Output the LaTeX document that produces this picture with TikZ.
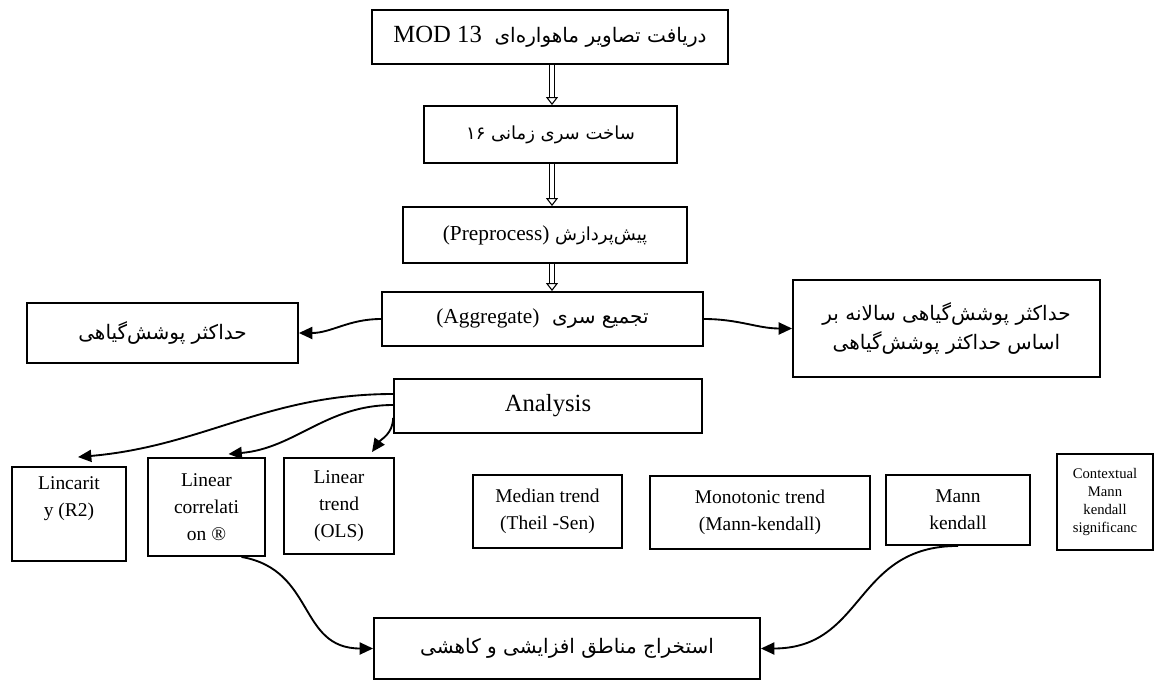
\documentclass[tikz,border=0pt]{standalone}
\usepackage{fontspec}
\setmainfont{Liberation Serif}
\newfontfamily\fa[Script=Arabic]{DejaVu Sans}
\TeXXeTstate=1
\usetikzlibrary{arrows.meta,calc}
\begin{document}
\begin{tikzpicture}[x=0.75pt,y=-0.75pt,
  box/.style={draw, line width=1.4pt, align=center, inner sep=0pt},
  dbl/.style={double, double distance=2.6pt, line width=0.7pt, -{Triangle[open, length=6pt, width=9pt, line width=0.8pt]}},
  carr/.style={line width=1.4pt, -{Triangle[length=10pt,width=9pt]}},
  fa/.style={font=\fa\fontsize{15}{21.75}\selectfont},
  fas/.style={font=\fa\fontsize{13.5}{20}\selectfont},
  lat/.style={font=\fontsize{14.6}{20}\selectfont},
  small/.style={font=\fontsize{11}{13.5}\selectfont}]
\useasboundingbox (0,0) rectangle (1161,682);
\coordinate (ax) at (552,0);
% main chain
\node[box, fa, minimum width=267pt, minimum height=40.5pt] (b1) at (550,37)
  {\beginR دریافت تصاویر ماهواره‌ای\ \ \beginL{\rmfamily\fontsize{18.5}{22}\selectfont MOD 13}\endL\endR};
\node[box, fas, minimum width=189.75pt, minimum height=42.75pt] (b2) at (550.5,134.5)
  {\beginR ساخت سری زمانی ۱۶\endR};
\node[box, fas, minimum width=213pt, minimum height=42pt] (b3) at (545,235)
  {\beginR پیش‌پردازش \beginL{\rmfamily\fontsize{16}{20}\selectfont (Preprocess)}\endL\endR};
\node[box, fa, minimum width=240.75pt, minimum height=40.5pt] (agg) at (542.5,319)
  {\beginR تجمیع سری\ \ \beginL{\rmfamily\fontsize{16}{20}\selectfont (Aggregate)}\endL\endR};
\node[box, fa, minimum width=203.25pt, minimum height=45pt] (left) at (162.5,333)
  {\beginR حداکثر پوشش‌گیاهی\endR};
\node[box, fa, minimum width=230.25pt, minimum height=72.75pt] (right) at (946.5,328.5)
  {\beginR حداکثر پوشش‌گیاهی سالانه بر\endR\\\beginR اساس حداکثر پوشش‌گیاهی\endR};
\node[box, minimum width=231pt, minimum height=40.5pt, font=\fontsize{18.5}{22}\selectfont] (an) at (548,406) {Analysis};
% method boxes
\node[box, lat, minimum width=85.5pt, minimum height=70.5pt] (lin) at (69,514) {Lincarit\\y (R2)\\\strut};
\node[box, lat, minimum width=87.75pt, minimum height=73.5pt] (corr) at (206.5,507) {Linear\\correlati\\on \textregistered};
\node[box, lat, minimum width=82.5pt, minimum height=72pt] (trend) at (339,506) {Linear\\trend\\(OLS)};
\node[box, lat, minimum width=111.75pt, minimum height=54.75pt] (med) at (547.5,511.5) {Median trend\\(Theil -Sen)};
\node[box, lat, minimum width=165pt, minimum height=54.75pt] (mono) at (760,512.5) {Monotonic trend\\(Mann-kendall)};
\node[box, lat, minimum width=108pt, minimum height=52.5pt] (mann) at (958,510) {Mann\\kendall};
\node[box, small, minimum width=72pt, minimum height=72pt] (ctx) at (1105,502) {Contextual\\Mann\\kendall\\significanc};
\node[box, fa, minimum width=289.5pt, minimum height=45.75pt] (bot) at (567,648.5)
  {\beginR استخراج مناطق افزایشی و کاهشی\endR};
% double arrows
\draw[dbl] (b1.south -| ax) -- (b2.north -| ax);
\draw[dbl] (b2.south -| ax) -- (b3.north -| ax);
\draw[dbl] (b3.south -| ax) -- (agg.north -| ax);
% side arrows
\draw[carr] (agg.west) to[out=180,in=0] (left.east);
\draw[carr] (agg.east) to[out=0,in=180] (right.west);
% analysis arrows
\draw[carr] ($(an.west)+(0,-12)$) to[out=180,in=5] ($(lin.north)+(9,-9)$);
\draw[carr] ($(an.west)+(0,-1)$) to[out=180,in=5] ($(corr.north)+(22,-3)$);
\draw[carr] ($(an.west)+(0,12)$) to[out=270,in=55] ($(trend.north)+(33,-5)$);
% to bottom
\draw[carr] ($(corr.south)+(35,0)$) to[out=-10,in=180,looseness=1.2] (bot.west);
\draw[carr] (mann.south) to[out=180,in=0,looseness=1.2] (bot.east);
\end{tikzpicture}
\end{document}
